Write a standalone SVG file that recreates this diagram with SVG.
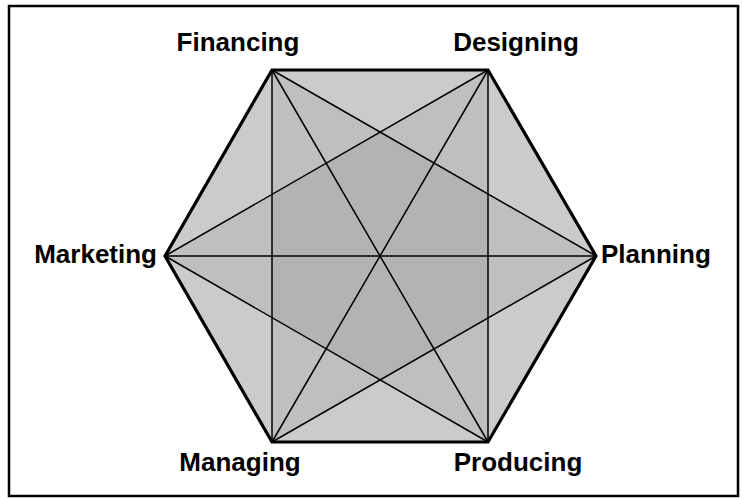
<svg xmlns="http://www.w3.org/2000/svg" width="742" height="498" viewBox="0 0 742 498">
<style>
.lbl{font-family:"Liberation Sans",Arial,sans-serif;font-weight:bold;font-size:26px;fill:#000}
.edge{stroke:#000;stroke-width:3.2;fill:none;stroke-linejoin:miter}
.diag{stroke:#000;stroke-width:1.5;fill:none}
</style>
<rect x="9" y="6" width="729" height="490" fill="#fff" stroke="#000" stroke-width="2.5"/>
<g id="fills">
<polygon points="165,256 272,70 488,70 596,256 488,442 272,442" fill="#cbcbcb"/>
<polygon points="272,70 596,256 272,442" fill="#000" fill-opacity="0.06"/>
<polygon points="488,70 488,442 165,256" fill="#000" fill-opacity="0.06"/>
</g>
<g id="connectors">
<polygon class="edge" points="165,256 272,70 488,70 596,256 488,442 272,442"/>
<line class="diag" x1="272" y1="70" x2="488" y2="442"/>
<line class="diag" x1="488" y1="70" x2="272" y2="442"/>
<line class="diag" x1="165" y1="256" x2="596" y2="256"/>
<line class="diag" x1="272" y1="70" x2="596" y2="256"/>
<line class="diag" x1="596" y1="256" x2="272" y2="442"/>
<line class="diag" x1="272" y1="442" x2="272" y2="70"/>
<line class="diag" x1="488" y1="70" x2="488" y2="442"/>
<line class="diag" x1="488" y1="442" x2="165" y2="256"/>
<line class="diag" x1="165" y1="256" x2="488" y2="70"/>
</g>
<g id="financing"><text class="lbl" x="238" y="51" text-anchor="middle">Financing</text></g>
<g id="designing"><text class="lbl" x="516" y="51" text-anchor="middle">Designing</text></g>
<g id="marketing"><text class="lbl" x="157" y="263" text-anchor="end">Marketing</text></g>
<g id="planning"><text class="lbl" x="601" y="263">Planning</text></g>
<g id="managing"><text class="lbl" x="240" y="471" text-anchor="middle">Managing</text></g>
<g id="producing"><text class="lbl" x="518" y="471" text-anchor="middle">Producing</text></g>
</svg>
